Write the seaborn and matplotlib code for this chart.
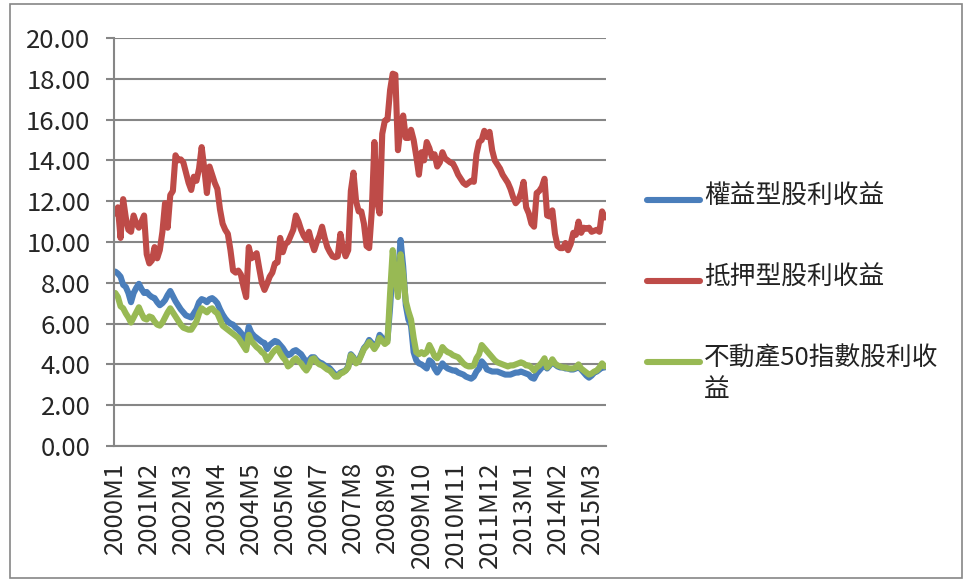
import numpy as np
import pandas as pd
import matplotlib
matplotlib.use("Agg")
import matplotlib.pyplot as plt
import seaborn as sns
from matplotlib.lines import Line2D
from matplotlib.patches import Rectangle

# monthly categories 2000M1 .. 2015M8
months = [f"{y}M{m}" for y in range(2000, 2016) for m in range(1, 13)][:188]
tick_labels = ["2000M1", "2001M2", "2002M3", "2003M4", "2004M5", "2005M6", "2006M7", "2007M8",
               "2008M9", "2009M10", "2010M11", "2011M12", "2013M1", "2014M2", "2015M3"]

series_names = ["權益型股利收益", "抵押型股利收益", "不動產50指數股利收益"]
legend_text = ["權益型股利收益", "抵押型股利收益", "不動產50指數股利收\n益"]
colors = ["#4A7EBB", "#BE4B48", "#98B954"]

equity = [8.55, 8.45, 8.3, 7.9, 7.8, 7.5, 7.05, 7.5, 7.75, 7.95,
          7.7, 7.5, 7.55, 7.4, 7.3, 7.25, 7.05, 6.9, 7.0, 7.15,
          7.4, 7.6, 7.35, 7.1, 6.9, 6.7, 6.55, 6.4, 6.35, 6.3,
          6.5, 6.7, 7.05, 7.2, 7.15, 7.05, 7.2, 7.25, 7.15, 7.0,
          6.7, 6.45, 6.25, 6.1, 6.0, 5.95, 5.8, 5.7, 5.55, 5.35,
          5.2, 5.85, 5.55, 5.4, 5.3, 5.2, 5.1, 5.05, 4.75, 4.95,
          5.05, 5.15, 5.1, 4.95, 4.8, 4.6, 4.45, 4.5, 4.65, 4.7,
          4.6, 4.5, 4.3, 4.1, 4.2, 4.35, 4.35, 4.2, 4.1, 4.05,
          3.95, 3.9, 3.8, 3.65, 3.5, 3.45, 3.6, 3.65, 3.7, 3.9,
          4.5, 4.35, 4.1, 4.2, 4.5, 4.8, 4.95, 5.2, 5.05, 4.85,
          5.0, 5.45, 5.3, 5.15, 5.2, 6.8, 8.8, 8.0, 8.3, 10.1,
          8.8, 6.9, 6.2, 5.9, 4.6, 4.2, 4.05, 4.0, 3.9, 3.8,
          4.2, 4.1, 3.8, 3.6, 3.8, 4.05, 3.9, 3.8, 3.75, 3.7,
          3.7, 3.6, 3.55, 3.5, 3.4, 3.35, 3.3, 3.4, 3.65, 3.8,
          4.15, 4.0, 3.75, 3.7, 3.65, 3.65, 3.65, 3.6, 3.55, 3.5,
          3.5, 3.5, 3.55, 3.6, 3.6, 3.65, 3.6, 3.55, 3.5, 3.35,
          3.3, 3.55, 3.7, 3.85, 4.0, 3.8, 3.95, 4.2, 4.0, 3.9,
          3.85, 3.85, 3.8, 3.8, 3.75, 3.75, 3.8, 3.9, 3.75, 3.6,
          3.45, 3.35, 3.45, 3.6, 3.65, 3.75, 3.85, 3.85]

mortgage = [11.4, 11.7, 10.2, 12.1, 11.2, 10.6, 10.5, 11.3, 10.9, 10.7,
            11.0, 11.3, 9.4, 8.95, 9.1, 9.75, 9.2, 9.6, 10.5, 11.9,
            10.7, 12.3, 12.5, 14.25, 14.0, 14.05, 13.9, 13.4, 12.9, 12.55,
            13.2, 13.0, 13.6, 14.65, 13.6, 12.4, 13.7, 13.3, 12.9, 12.6,
            11.6, 10.9, 10.6, 10.4, 9.6, 8.6, 8.5, 8.6, 8.4, 7.8,
            7.3, 9.75, 9.2, 9.3, 9.45, 8.7, 8.0, 7.65, 7.95, 8.3,
            8.5, 8.95, 9.0, 10.2, 9.5, 9.9, 10.0, 10.3, 10.6, 11.3,
            11.0, 10.6, 10.3, 10.1, 10.5, 10.0, 9.6, 10.0, 10.3, 10.75,
            10.2, 9.75, 9.5, 9.3, 9.25, 9.3, 10.4, 9.7, 9.3, 9.6,
            12.5, 13.4, 12.0, 11.5, 11.5, 10.9, 9.8, 9.7, 11.5, 14.9,
            12.0, 11.4, 15.3, 15.95, 16.0, 17.45, 18.25, 18.2, 14.5, 15.6,
            16.2, 15.1, 15.1, 15.5, 15.0, 14.2, 13.3, 14.4, 14.0, 14.9,
            14.6, 14.15, 14.3, 13.7, 13.9, 14.4, 14.1, 14.0, 13.9, 13.85,
            13.6, 13.3, 13.1, 12.9, 12.8, 12.9, 13.0, 12.95, 14.3, 14.9,
            15.0, 15.45, 15.15, 15.4, 14.5, 14.0, 13.8, 13.6, 13.3, 13.1,
            12.9, 12.6, 12.2, 11.9, 12.05, 12.4, 12.95, 11.7, 11.4, 10.9,
            10.75, 12.4, 12.5, 12.7, 13.1, 11.3, 11.25, 11.55, 10.4, 9.8,
            9.7, 9.7, 9.95, 9.6, 9.9, 10.45, 10.35, 11.0, 10.45, 10.7,
            10.65, 10.7, 10.5, 10.55, 10.6, 10.5, 11.5, 11.2]

reit50 = [7.5, 7.3, 6.85, 6.75, 6.5, 6.3, 6.05, 6.3, 6.55, 6.8,
          6.5, 6.25, 6.2, 6.35, 6.3, 6.1, 5.95, 5.9, 6.05, 6.3,
          6.55, 6.75, 6.55, 6.35, 6.15, 5.95, 5.8, 5.75, 5.7, 5.7,
          5.9, 6.1, 6.5, 6.75, 6.65, 6.55, 6.7, 6.75, 6.6, 6.5,
          6.2, 5.9, 5.8, 5.7, 5.6, 5.5, 5.4, 5.3, 5.1, 4.9,
          4.7, 5.45, 5.15, 5.0, 4.85, 4.75, 4.6, 4.5, 4.2, 4.35,
          4.55, 4.7, 4.8, 4.55, 4.35, 4.2, 3.9, 4.0, 4.2, 4.3,
          4.15, 4.05, 3.85, 3.7, 3.9, 4.25, 4.3, 4.1, 4.0, 3.95,
          3.85, 3.75, 3.7, 3.55, 3.4, 3.4, 3.55, 3.6, 3.7, 3.85,
          4.45, 4.3, 4.05, 4.15, 4.45, 4.75, 4.9, 5.1, 4.95, 4.75,
          4.95, 5.3, 5.15, 5.0, 5.1, 7.5, 9.6, 8.3, 7.3, 9.4,
          8.4, 7.1, 6.6, 6.2, 5.3, 4.6, 4.5, 4.6, 4.5, 4.6,
          4.95, 4.7, 4.4, 4.3, 4.5, 4.85, 4.7, 4.6, 4.55, 4.45,
          4.4, 4.35, 4.2, 4.05, 3.95, 3.9, 3.9, 3.95, 4.3, 4.5,
          4.95, 4.8, 4.65, 4.5, 4.35, 4.2, 4.1, 4.05, 4.0, 3.95,
          3.9, 3.95, 3.95, 4.0, 4.05, 4.1, 4.05, 3.95, 3.95, 3.85,
          3.7, 3.85, 3.95, 4.1, 4.3, 3.85, 4.0, 4.25, 4.05, 3.95,
          3.9, 3.85, 3.85, 3.8, 3.8, 3.8, 3.85, 4.0, 3.8, 3.7,
          3.6, 3.5, 3.55, 3.65, 3.7, 3.85, 4.05, 3.9]

df = pd.DataFrame({
    "month": months * 3,
    "idx": list(range(len(months))) * 3,
    "value": equity + mortgage + reit50,
    "series": [series_names[0]] * 188 + [series_names[1]] * 188 + [series_names[2]] * 188,
})

sns.set_style("white")
plt.rcParams["font.family"] = ["Noto Sans CJK TC", "DejaVu Sans"]

W, H = 965, 580
fig = plt.figure(figsize=(W / 100, H / 100), dpi=100)
ax = fig.add_axes([114 / W, 1 - 446 / H, (606 - 114) / W, (446 - 38) / H])

sns.lineplot(data=df, x="idx", y="value", hue="series", hue_order=series_names,
             palette=colors, linewidth=4.4, legend=False, ax=ax)
for ln in ax.lines:
    ln.set_solid_joinstyle("round")
    ln.set_solid_capstyle("round")

grid_c = "#868686"
ax.set_xlim(-0.5, len(months) - 0.5)
ax.set_ylim(0, 20)
ax.set_yticks(np.arange(0, 20.01, 2))
ax.set_yticklabels([f"{v:.2f}" for v in np.arange(0, 20.01, 2)])
ax.yaxis.grid(True, color=grid_c, linewidth=1.5)
ax.set_axisbelow(True)

pos = [months.index(t) for t in tick_labels]
ax.set_xticks(pos)
ax.set_xticklabels(tick_labels, rotation=90)
ax.set_xticks(np.arange(-0.5, len(months), 1), minor=True)
ax.tick_params(axis="x", which="major", length=0, pad=11, labelsize=18.5)
ax.tick_params(axis="x", which="minor", length=5, width=0.8, color=grid_c, direction="out")
ax.tick_params(axis="y", length=6, width=1.5, color=grid_c, pad=11, labelsize=18.5, left=True)
ax.set_xlabel("")
ax.set_ylabel("")

for s in ["top", "right"]:
    ax.spines[s].set_visible(False)
for s in ["left", "bottom"]:
    ax.spines[s].set_color(grid_c)
    ax.spines[s].set_linewidth(1.5)

# legend on the right
leg_y = [200, 281, 362]
for c, t, y in zip(colors, legend_text, leg_y):
    fig.add_artist(Line2D([647 / W, 700 / W], [1 - y / H, 1 - y / H], color=c,
                          linewidth=4.4, solid_capstyle="round", transform=fig.transFigure))
    fig.text(704 / W, 1 - (y - 16) / H, t, fontsize=18.5, va="top", ha="left",
             linespacing=1.25, color="#222222")

# chart area border
fig.add_artist(Rectangle((10 / W, 2 / H), 952 / W, 574 / H, fill=False,
                         edgecolor="#868686", linewidth=1.2, transform=fig.transFigure))

fig.savefig("out.png", dpi=100)
